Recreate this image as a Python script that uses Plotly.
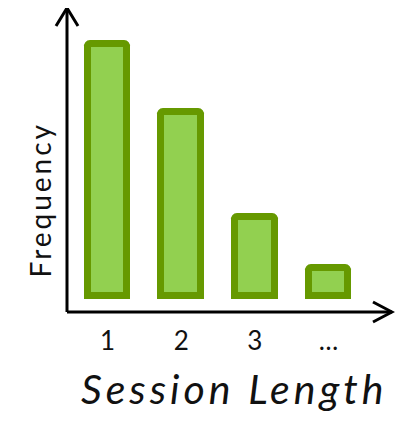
import plotly.graph_objects as go

categories = [1, 2, 3, 4]
tick_labels = ["1", "2", "3", "…"]
frequency = [100, 73, 31, 11]

FILL = "#92D050"
EDGE = "#669900"
FONT = "Lato, Open Sans, sans-serif"

fig = go.Figure(go.Bar(
    x=categories, y=frequency, width=0.54,
    marker=dict(color=FILL, line=dict(color=EDGE, width=7), cornerradius=3),
    hoverinfo="skip",
))

# page body has an 8px margin, so the figure starts at (8, 8)
W, H = 325, 304
fig.update_layout(
    width=387, height=406,
    margin=dict(l=59, r=3, t=0, b=102),
    paper_bgcolor="white", plot_bgcolor="white",
    showlegend=False,
    bargap=0,
    xaxis=dict(range=[0.45, 4.862], tickvals=categories, ticktext=tick_labels,
               showgrid=False, zeroline=False, showline=False,
               ticks="outside", ticklen=6, tickcolor="rgba(0,0,0,0)",
               tickfont=dict(family=FONT, size=26, color="#111")),
    yaxis=dict(range=[-6.55, 114.1], showticklabels=False, showgrid=False,
               zeroline=False, showline=False, ticks=""),
    shapes=[
        dict(type="line", xref="paper", yref="paper", x0=0, y0=0, x1=0, y1=1,
             line=dict(color="black", width=3)),
        dict(type="line", xref="paper", yref="paper", x0=0, y0=0, x1=1, y1=0,
             line=dict(color="black", width=3)),
        dict(type="path", xref="paper", yref="paper",
             path=f"M {-11/W} {1-18/H} L 0 1 L {11/W} {1-18/H}",
             line=dict(color="black", width=3)),
        dict(type="path", xref="paper", yref="paper",
             path=f"M {1-19/W} {10/H} L 1 0 L {1-19/W} {-10/H}",
             line=dict(color="black", width=3)),
    ],
    annotations=[
        dict(text="Frequency", xref="paper", yref="paper", x=(32-59)/W, y=(304-192)/H,
             textangle=-90, showarrow=False, xanchor="center", yanchor="middle",
             font=dict(family=FONT, size=28, color="#111")),
        dict(text="<i>Session Length</i>", xref="paper", yref="paper", x=(226-59)/W, y=(304-380)/H,
             showarrow=False, xanchor="center", yanchor="middle",
             font=dict(family=FONT, size=41, color="#111")),
    ],
)

js = """
var gd = document.getElementById('{plot_id}');
function ls(){
  gd.querySelectorAll('text.annotation-text').forEach(function(t){
    var s = t.textContent;
    if (s.indexOf('Frequency') >= 0) t.style.letterSpacing = '3px';
    else if (s.indexOf('Session') >= 0) t.style.letterSpacing = '4px';
  });
}
ls();
if (gd.on) gd.on('plotly_afterplot', ls);
"""

fig.write_html("out.html", post_script=js)
